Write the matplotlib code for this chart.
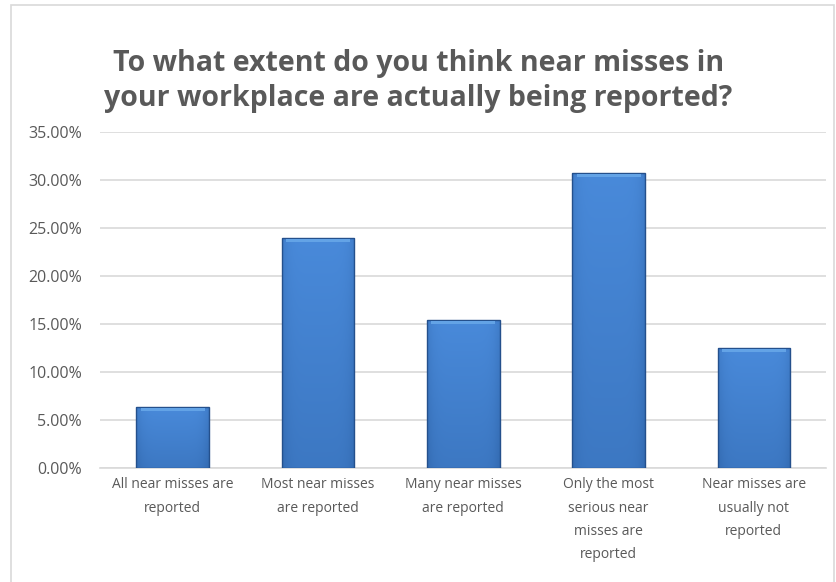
import matplotlib
matplotlib.use("Agg")
import numpy as np
import matplotlib.pyplot as plt
from matplotlib.patches import Rectangle
from matplotlib.ticker import FuncFormatter

# data
categories = [
    "All near misses are\nreported",
    "Most near misses\nare reported",
    "Many near misses\nare reported",
    "Only the most\nserious near\nmisses are\nreported",
    "Near misses are\nusually not\nreported",
]
values = [6.3, 23.9, 15.4, 30.7, 12.5]
yticks = [0, 5, 10, 15, 20, 25, 30, 35]
title = "To what extent do you think near misses in\nyour workplace are actually being reported?"

text_gray = "#595959"
plt.rcParams["font.family"] = ["Open Sans", "DejaVu Sans"]

fig = plt.figure(figsize=(8.37, 5.82), dpi=100)
ax = fig.add_axes([100 / 837, 114.3 / 582, 726.5 / 837, 335.7 / 582])

# chart border
fig.patches.append(Rectangle((11 / 837, -0.1), 823 / 837, 1.1 - 5 / 582,
                             transform=fig.transFigure, fill=False,
                             edgecolor="#d9d9d9", linewidth=1.2))

# gradient for bar fill: darker at bottom and at the sides
gy = np.linspace(0, 1, 100)[:, None]
gx = np.linspace(-1, 1, 60)[None, :]
shade = 0.55 + 0.35 * gy - 0.25 * gx ** 6
dark = np.array([0.16, 0.36, 0.62])
light = np.array([0.30, 0.56, 0.88])
grad = dark + (light - dark) * shade[..., None]
grad = np.clip(grad, 0, 1)

x = np.arange(len(categories))
bars = ax.bar(x, values, width=0.5, color="none", edgecolor="#24508c",
              linewidth=1.0, zorder=4)
for b in bars:
    x0, w, h = b.get_x(), b.get_width(), b.get_height()
    im = ax.imshow(grad, extent=(x0, x0 + w, 0, h), origin="lower",
                   aspect="auto", zorder=3)
    im.set_clip_path(b)
# lighter bevel on top of each bar
ax.bar(x, [0.3] * len(values), bottom=[v - 0.4 for v in values], width=0.44,
       color="#63a3e6", linewidth=0, zorder=5)

ax.set_xlim(-0.5, len(categories) - 0.5)
ax.set_ylim(0, 35)
ax.set_yticks(yticks)
ax.yaxis.set_major_formatter(FuncFormatter(lambda v, p: f"{v:.2f}%"))
ax.grid(axis="y", color="#d9d9d9", linewidth=1.2, zorder=0)
ax.set_axisbelow(True)
for s in ["top", "right", "left"]:
    ax.spines[s].set_visible(False)
ax.spines["bottom"].set_color("#d9d9d9")
ax.spines["bottom"].set_linewidth(1.2)
ax.tick_params(axis="both", length=0, colors=text_gray)
ax.tick_params(axis="y", pad=13, labelsize=11.5)
ax.set_xticks(x)
ax.set_xticklabels(categories, linespacing=1.75, fontsize=10)
ax.tick_params(axis="x", pad=7)

fig.text(0.5, 1 - 81 / 582, title, ha="center", va="center", fontsize=20.5,
         fontweight="bold", color=text_gray, linespacing=1.3)

fig.savefig("out.png", dpi=100)
